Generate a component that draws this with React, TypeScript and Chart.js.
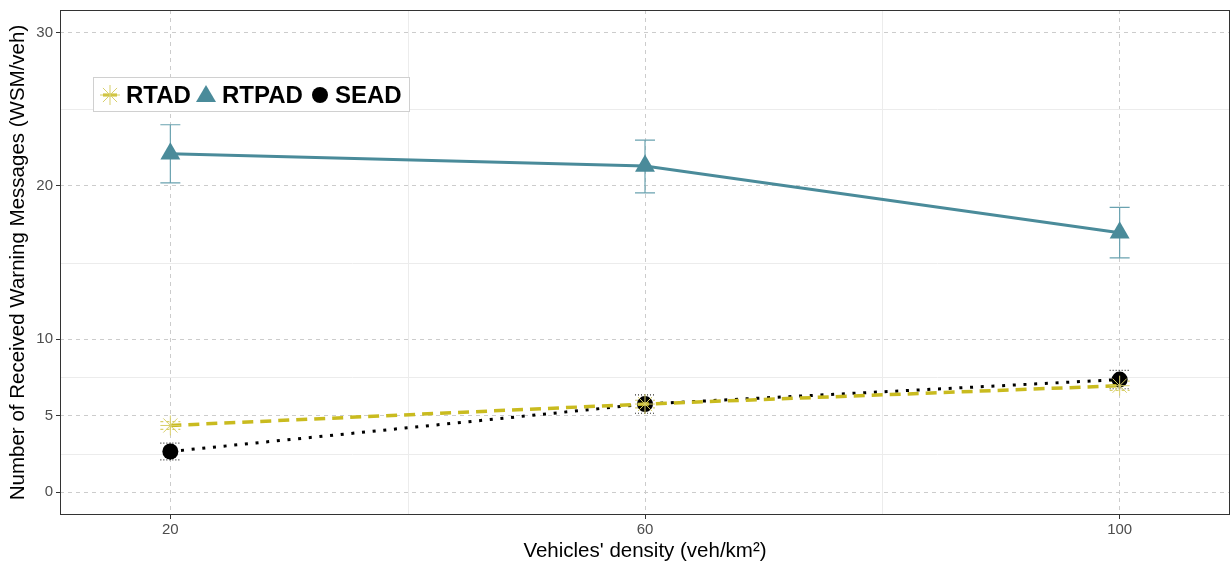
import React, { useEffect, useRef } from "react";
import { Chart, registerables } from "chart.js";

Chart.register(...registerables);

const densities = [20, 60, 100];
const rtad = [4.35, 5.75, 6.95];
const rtadErr = [0.25, 0.25, 0.3];
const rtpad = [22.1, 21.3, 16.95];
const rtpadLow = [20.2, 19.55, 15.3];
const rtpadHigh = [24.0, 23.0, 18.6];
const sead = [2.65, 5.75, 7.35];
const seadErr = [0.55, 0.6, 0.6];
const yTicks = [0, 5, 10, 20, 30];
const yMinor = [2.5, 7.5, 15, 25];
const xTicks = [20, 60, 100];
const xMinor = [40, 80];

const C_RTAD = "#c9bb1f";
const C_RTAD_PT = "#d8cf6a";
const C_RTPAD = "#4a8b9a";
const C_RTPAD_ERR = "#6aa2b0";
const C_SEAD = "#000000";
const FONT = "'Liberation Sans', Arial, Helvetica, sans-serif";

const extras = {
  id: "extras",
  beforeDatasetsDraw(chart: any) {
    const { ctx, chartArea: a, scales } = chart;
    const x = scales.x, y = scales.y;
    ctx.save();
    ctx.strokeStyle = "#ececec";
    ctx.lineWidth = 1;
    for (const v of yMinor) {
      const py = Math.round(y.getPixelForValue(v)) + 0.5;
      ctx.beginPath(); ctx.moveTo(a.left, py); ctx.lineTo(a.right, py); ctx.stroke();
    }
    for (const v of xMinor) {
      const px = Math.round(x.getPixelForValue(v)) + 0.5;
      ctx.beginPath(); ctx.moveTo(px, a.top); ctx.lineTo(px, a.bottom); ctx.stroke();
    }
    const bar = (xv: number, lo: number, hi: number, color: string, dash: number[]) => {
      const px = x.getPixelForValue(xv);
      const pl = y.getPixelForValue(lo);
      const ph = y.getPixelForValue(hi);
      ctx.strokeStyle = color;
      ctx.lineWidth = 1.2;
      ctx.setLineDash(dash);
      ctx.beginPath();
      ctx.moveTo(px, pl); ctx.lineTo(px, ph);
      ctx.moveTo(px - 10, pl); ctx.lineTo(px + 10, pl);
      ctx.moveTo(px - 10, ph); ctx.lineTo(px + 10, ph);
      ctx.stroke();
    };
    densities.forEach((d, i) => {
      bar(d, rtpadLow[i], rtpadHigh[i], C_RTPAD_ERR, []);
      bar(d, rtad[i] - rtadErr[i], rtad[i] + rtadErr[i], C_RTAD_PT, [3, 3]);
      bar(d, sead[i] - seadErr[i], sead[i] + seadErr[i], "#333", [1, 2]);
    });
    ctx.restore();
  },
  afterDraw(chart: any) {
    const { ctx, chartArea: a } = chart;
    ctx.save();
    ctx.strokeStyle = "#333333";
    ctx.lineWidth = 1;
    ctx.strokeRect(Math.round(a.left) + 0.5, Math.round(a.top) + 0.5, Math.round(a.right - a.left) - 1, Math.round(a.bottom - a.top) - 1);

    // legend
    const lx = 93.5, ly = 77.5, lw = 316, lh = 34;
    ctx.fillStyle = "#ffffff";
    ctx.fillRect(lx, ly, lw, lh);
    ctx.strokeStyle = "#d0d0d0";
    ctx.strokeRect(lx, ly, lw, lh);
    const cy = 95;
    ctx.strokeStyle = C_RTAD;
    ctx.lineWidth = 3;
    ctx.beginPath(); ctx.moveTo(103, cy); ctx.lineTo(117, cy); ctx.stroke();
    ctx.strokeStyle = C_RTAD_PT;
    ctx.lineWidth = 1;
    for (let k = 0; k < 4; k++) {
      const ang = (k * Math.PI) / 4;
      const r = 10;
      ctx.beginPath();
      ctx.moveTo(110 - Math.cos(ang) * r, cy - Math.sin(ang) * r);
      ctx.lineTo(110 + Math.cos(ang) * r, cy + Math.sin(ang) * r);
      ctx.stroke();
    }
    ctx.fillStyle = C_RTPAD;
    ctx.beginPath();
    ctx.moveTo(206, cy - 10); ctx.lineTo(216, cy + 7); ctx.lineTo(196, cy + 7); ctx.closePath(); ctx.fill();
    ctx.fillStyle = "#000";
    ctx.beginPath(); ctx.arc(320, cy, 8, 0, Math.PI * 2); ctx.fill();
    ctx.font = `bold 24px ${FONT}`;
    ctx.textBaseline = "middle";
    ctx.textAlign = "left";
    ctx.fillText("RTAD", 126, cy + 1);
    ctx.fillText("RTPAD", 222, cy + 1);
    ctx.fillText("SEAD", 335, cy + 1);
    ctx.restore();
  },
};

export default function App() {
  const ref = useRef<HTMLCanvasElement>(null);
  useEffect(() => {
    document.body.style.margin = "0";
    const toXY = (vals: number[]) => densities.map((d, i) => ({ x: d, y: vals[i] }));
    const chart = new Chart(ref.current as HTMLCanvasElement, {
      type: "line",
      data: {
        datasets: [
          {
            label: "RTAD",
            data: toXY(rtad),
            borderColor: C_RTAD,
            borderWidth: 3.5,
            borderDash: [11, 7],
            pointStyle: "star",
            pointRadius: 10,
            pointBorderColor: C_RTAD_PT,
            pointBackgroundColor: C_RTAD_PT,
            pointBorderWidth: 1,
          },
          {
            label: "RTPAD",
            data: toXY(rtpad),
            borderColor: C_RTPAD,
            borderWidth: 3,
            pointStyle: "triangle",
            pointRadius: 11.5,
            pointBorderWidth: 0,
            pointBackgroundColor: C_RTPAD,
            pointBorderColor: C_RTPAD,
          },
          {
            label: "SEAD",
            data: toXY(sead),
            borderColor: C_SEAD,
            borderWidth: 3,
            borderDash: [3, 7.7],
            pointStyle: "circle",
            pointRadius: 8,
            pointBorderWidth: 0,
            pointBackgroundColor: "#000",
            pointBorderColor: "#000",
          },
        ],
      },
      options: {
        responsive: false,
        animation: false,
        layout: { autoPadding: false, padding: { top: 10, right: 2, left: 0, bottom: 0 } },
        plugins: { legend: { display: false }, tooltip: { enabled: false } },
        scales: {
          x: {
            type: "linear",
            min: 10.7,
            max: 109.3,
            afterBuildTicks: (s: any) => { s.ticks = xTicks.map((v) => ({ value: v })); },
            afterFit: (s: any) => { s.height = 53; s.paddingLeft = 0; s.paddingRight = 0; },
            grid: { color: "#cccccc", lineWidth: 1, tickLength: 4, tickColor: "#333333", tickBorderDash: [] },
            border: { display: false, dash: [4, 4] },
            ticks: { color: "#4d4d4d", font: { size: 15, family: FONT }, padding: 2, maxRotation: 0 },
            title: { display: true, text: "Vehicles' density (veh/km²)", color: "#000", font: { size: 20.5, family: FONT }, padding: { top: 0, bottom: 4 } },
          },
          y: {
            type: "linear",
            min: -1.5,
            max: 31.5,
            afterBuildTicks: (s: any) => { s.ticks = yTicks.map((v) => ({ value: v })); },
            afterFit: (s: any) => { s.width = 60; s.paddingTop = 0; s.paddingBottom = 0; },
            grid: { color: "#cccccc", lineWidth: 1, tickLength: 4, tickColor: "#333333", tickBorderDash: [] },
            border: { display: false, dash: [4, 4] },
            ticks: { color: "#4d4d4d", font: { size: 15, family: FONT }, padding: 3 },
            title: { display: true, text: "Number of Received Warning Messages (WSM/veh)", color: "#000", font: { size: 20.5, family: FONT }, padding: { top: 6, bottom: 0 } },
          },
        },
      },
      plugins: [extras],
    } as any);
    return () => chart.destroy();
  }, []);
  return <canvas ref={ref} width={1232} height={568} style={{ display: "block" }} />;
}
